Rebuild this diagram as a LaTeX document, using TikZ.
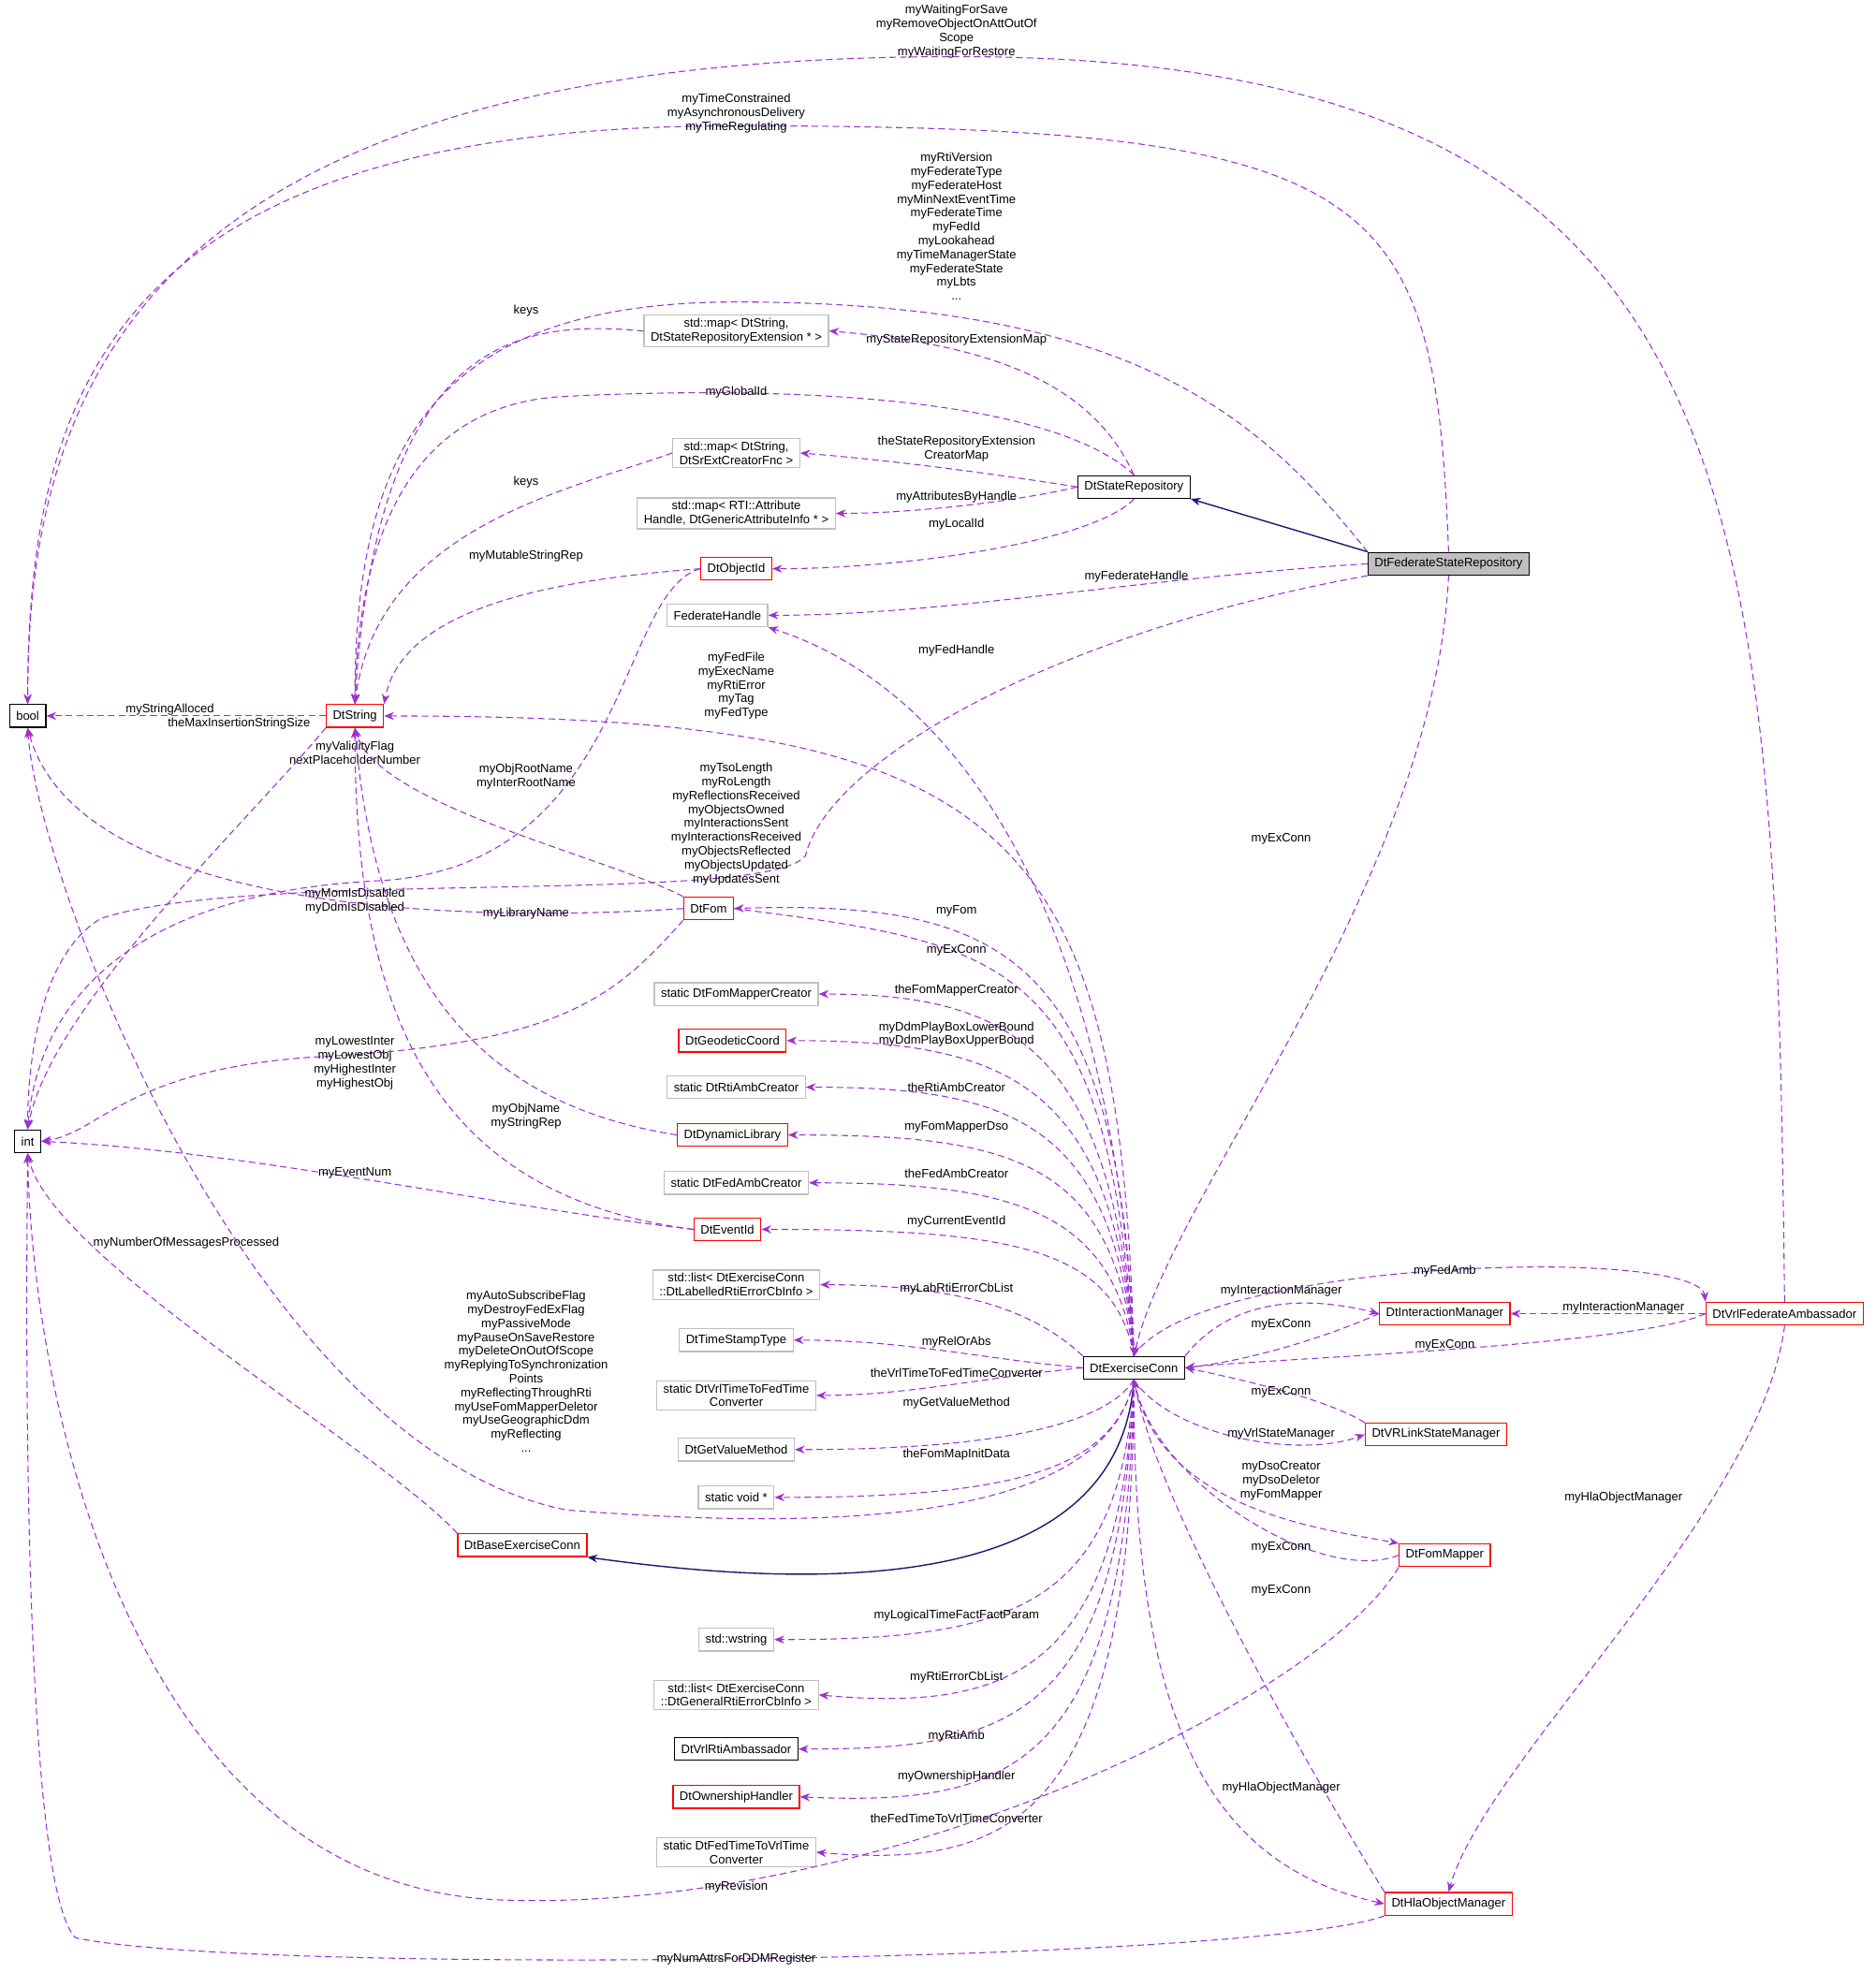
\documentclass[tikz,border=0pt]{standalone}
\usepackage{fontspec}
\setmainfont{Liberation Sans}
\usetikzlibrary{arrows.meta}
\definecolor{depcol}{RGB}{154,50,205}
\definecolor{inhcol}{RGB}{25,25,112}
\definecolor{grycol}{RGB}{191,191,191}
\tikzset{
  cls/.style={draw=black, line width=0.35pt, fill=white, inner xsep=2pt, inner ysep=1pt, minimum height=6.9pt, align=center, font=\fontsize{3.7}{4.2}\selectfont},
  redcls/.style={cls, draw=red},
  grycls/.style={cls, draw=grycol},
  dep/.style={draw=depcol, line width=0.3pt, dash pattern=on 2pt off 1.2pt, -{Stealth[length=3pt,width=2.4pt]}},
  inh/.style={draw=inhcol, line width=0.4pt, -{Stealth[length=3pt,width=2.4pt]}},
  lbl/.style={align=center, inner sep=0.3pt, font=\fontsize{3.7}{4.2}\selectfont},
}
\begin{document}
\begin{tikzpicture}[x=0.01342cm, y=-0.01342cm]
		\useasboundingbox (0,0) rectangle (1490,1568);

		% classes
		\node[cls] (bool) at (22,569) {bool};
		\node[redcls] (dtstr) at (282,569) {DtString};
		\node[cls] (int) at (22,907) {int};
		\node[grycls] (mapext) at (585,263) {std::map\textless{} DtString,\\ DtStateRepositoryExtension * \textgreater};
		\node[grycls] (mapcre) at (585,360) {std::map\textless{} DtString,\\ DtSrExtCreatorFnc \textgreater};
		\node[grycls] (mapatt) at (585,408) {std::map\textless{} RTI::Attribute\\Handle, DtGenericAttributeInfo * \textgreater};
		\node[redcls] (objid) at (585,452) {DtObjectId};
		\node[grycls] (fedh) at (570,489) {FederateHandle};
		\node[cls] (staterep) at (901,387) {DtStateRepository};
		\node[cls, fill=grycol] (fsr) at (1151,448) {DtFederateStateRepository};
		\node[redcls] (fom) at (563,722) {DtFom};
		\node[grycls] (fmc) at (585,790) {static DtFomMapperCreator};
		\node[redcls] (geo) at (582,827) {DtGeodeticCoord};
		\node[grycls] (rac) at (585,864) {static DtRtiAmbCreator};
		\node[redcls] (dynlib) at (582,902) {DtDynamicLibrary};
		\node[grycls] (fac) at (585,940) {static DtFedAmbCreator};
		\node[redcls] (evid) at (578,977) {DtEventId};
		\node[grycls] (lablist) at (585,1021) {std::list\textless{} DtExerciseConn\\::DtLabelledRtiErrorCbInfo \textgreater};
		\node[grycls] (tst) at (585,1065) {DtTimeStampType};
		\node[grycls] (v2f) at (585,1109) {static DtVrlTimeToFedTime\\Converter};
		\node[grycls] (gvm) at (585,1152) {DtGetValueMethod};
		\node[grycls] (svoid) at (585,1190) {static void *};
		\node[redcls] (bec) at (415,1228) {DtBaseExerciseConn};
		\node[grycls] (wstr) at (585,1303) {std::wstring};
		\node[grycls] (genlist) at (585,1347) {std::list\textless{} DtExerciseConn\\::DtGeneralRtiErrorCbInfo \textgreater};
		\node[cls] (vrlra) at (585,1390) {DtVrlRtiAmbassador};
		\node[redcls] (own) at (585,1428) {DtOwnershipHandler};
		\node[grycls] (f2v) at (585,1472) {static DtFedTimeToVrlTime\\Converter};
		\node[cls] (ec) at (901,1087) {DtExerciseConn};
		\node[redcls] (im) at (1148,1044) {DtInteractionManager};
		\node[redcls] (vfa) at (1418,1044) {DtVrlFederateAmbassador};
		\node[redcls] (vsm) at (1141,1140) {DtVRLinkStateManager};
		\node[redcls] (fmap) at (1148,1236) {DtFomMapper};
		\node[redcls] (hom) at (1151,1513) {DtHlaObjectManager};

		% top region
		\draw[dep] (vfa.north) .. controls (1410,400) and (1400,45) .. (760,45) .. controls (120,45) and (22,300) .. (bool.north)
			node[lbl, at={(760,25)}] {myWaitingForSave\\myRemoveObjectOnAttOutOf\\Scope\\myWaitingForRestore};
		\draw[dep] (fsr.north) .. controls (1140,150) and (1100,100) .. (585,100) .. controls (100,100) and (22,300) .. (bool.north)
			node[lbl, at={(585,90)}] {myTimeConstrained\\myAsynchronousDelivery\\myTimeRegulating};
		\draw[dep] (fsr.north west) .. controls (1000,330) and (900,240) .. (585,240) .. controls (350,240) and (282,350) .. (dtstr.north)
			node[lbl, at={(760,180)}] {myRtiVersion\\myFederateType\\myFederateHost\\myMinNextEventTime\\myFederateTime\\myFedId\\myLookahead\\myTimeManagerState\\myFederateState\\myLbts\\...};
		\draw[dep] (staterep.north) .. controls (870,310) and (800,275) .. (mapext.east)
			node[lbl, at={(760,270)}] {myStateRepositoryExtensionMap};
		\draw[dep] (mapext.west) .. controls (420,255) and (300,260) .. (dtstr.north)
			node[lbl, at={(418,247)}] {keys};
		\draw[dep] (staterep.north) .. controls (840,320) and (650,305) .. (450,315) .. controls (330,320) and (285,420) .. (dtstr.north)
			node[lbl, at={(585,312)}] {myGlobalId};
		\draw[dep] (staterep.west) .. controls (780,375) and (700,365) .. (mapcre.east)
			node[lbl, at={(760,357)}] {theStateRepositoryExtension\\CreatorMap};
		\draw[dep] (mapcre.west) .. controls (450,390) and (300,420) .. (dtstr.north)
			node[lbl, at={(418,383)}] {keys};
		\draw[dep] (staterep.west) .. controls (800,400) and (720,408) .. (mapatt.east)
			node[lbl, at={(760,395)}] {myAttributesByHandle};
		\draw[dep] (staterep.south) .. controls (870,430) and (720,452) .. (objid.east)
			node[lbl, at={(760,417)}] {myLocalId};
		\draw[dep] (objid.west) .. controls (450,460) and (320,480) .. (dtstr.north east)
			node[lbl, at={(418,442)}] {myMutableStringRep};
		\draw[dep] (objid.west) .. controls (490,470) and (500,690) .. (300,700) .. controls (100,710) and (30,800) .. (int.north)
			node[lbl, at={(282,598)}] {myValidityFlag\\nextPlaceholderNumber};
		\draw[inh] (fsr.north west) -- (staterep.south east);
		\draw[dep] (fsr.west) .. controls (900,460) and (750,489) .. (fedh.east)
			node[lbl, at={(903,458)}] {myFederateHandle};
		\draw[dep] (fsr.south west) .. controls (850,500) and (660,600) .. (640,680) .. controls (610,720) and (200,690) .. (80,730) .. controls (30,760) and (22,850) .. (int.north)
			node[lbl, at={(585,655)}] {myTsoLength\\myRoLength\\myReflectionsReceived\\myObjectsOwned\\myInteractionsSent\\myInteractionsReceived\\myObjectsReflected\\myObjectsUpdated\\myUpdatesSent};
		\draw[dep] (fsr.south) .. controls (1140,700) and (930,950) .. (ec.north)
			node[lbl, at={(1018,667)}] {myExConn};
		\draw[dep] (dtstr.west) -- (bool.east)
			node[lbl, at={(135,564)}] {myStringAlloced};
		\draw[dep] (dtstr.south west) .. controls (200,650) and (40,800) .. (int.north)
			node[lbl, at={(190,575)}] {theMaxInsertionStringSize};

		% exercise connection, left side
		\draw[dep] (ec.north) .. controls (890,800) and (800,560) .. (fedh.south east)
			node[lbl, at={(760,517)}] {myFedHandle};
		\draw[dep] (ec.north) .. controls (890,650) and (800,569) .. (dtstr.east)
			node[lbl, at={(585,545)}] {myFedFile\\myExecName\\myRtiError\\myTag\\myFedType};
		\draw[dep] (fom.north west) .. controls (480,680) and (300,640) .. (dtstr.south)
			node[lbl, at={(418,617)}] {myObjRootName\\myInterRootName};
		\draw[dep] (fom.west) .. controls (350,735) and (60,720) .. (bool.south)
			node[lbl, at={(282,716)}] {myMomIsDisabled\\myDdmIsDisabled};
		\draw[dep] (fom.south west) .. controls (490,790) and (450,830) .. (250,840) .. controls (100,850) and (80,900) .. (int.east)
			node[lbl, at={(282,845)}] {myLowestInter\\myLowestObj\\myHighestInter\\myHighestObj};
		\draw[dep] (ec.north) .. controls (890,760) and (800,715) .. (fom.east)
			node[lbl, at={(760,724)}] {myFom};
		\draw[dep] (fom.east) .. controls (800,750) and (880,760) .. (ec.north)
			node[lbl, at={(760,755)}] {myExConn};
		\draw[dep] (ec.north) .. controls (885,830) and (800,790) .. (fmc.east)
			node[lbl, at={(760,787)}] {theFomMapperCreator};
		\draw[dep] (ec.north) .. controls (885,860) and (800,827) .. (geo.east)
			node[lbl, at={(760,822)}] {myDdmPlayBoxLowerBound\\myDdmPlayBoxUpperBound};
		\draw[dep] (ec.north) .. controls (885,890) and (800,864) .. (rac.east)
			node[lbl, at={(760,864)}] {theRtiAmbCreator};
		\draw[dep] (ec.north) .. controls (885,920) and (800,902) .. (dynlib.east)
			node[lbl, at={(760,896)}] {myFomMapperDso};
		\draw[dep] (dynlib.west) .. controls (400,880) and (300,800) .. (dtstr.south)
			node[lbl, at={(418,726)}] {myLibraryName};
		\draw[dep] (ec.north) .. controls (885,960) and (800,940) .. (fac.east)
			node[lbl, at={(760,933)}] {theFedAmbCreator};
		\draw[dep] (ec.north) .. controls (885,990) and (800,977) .. (evid.east)
			node[lbl, at={(760,971)}] {myCurrentEventId};
		\draw[dep] (evid.west) .. controls (340,950) and (282,800) .. (dtstr.south)
			node[lbl, at={(418,887)}] {myObjName\\myStringRep};
		\draw[dep] (evid.west) .. controls (400,960) and (200,915) .. (int.east)
			node[lbl, at={(282,932)}] {myEventNum};
		\draw[dep] (ec.north west) .. controls (820,1040) and (760,1021) .. (lablist.east)
			node[lbl, at={(760,1024)}] {myLabRtiErrorCbList};
		\draw[dep] (ec.west) .. controls (780,1080) and (720,1065) .. (tst.east)
			node[lbl, at={(760,1067)}] {myRelOrAbs};
		\draw[dep] (ec.west) .. controls (780,1095) and (720,1109) .. (v2f.east)
			node[lbl, at={(760,1091)}] {theVrlTimeToFedTimeConverter};
		\draw[dep] (ec.south) .. controls (880,1130) and (800,1152) .. (gvm.east)
			node[lbl, at={(760,1115)}] {myGetValueMethod};
		\draw[dep] (ec.south) .. controls (885,1170) and (800,1190) .. (svoid.east)
			node[lbl, at={(760,1156)}] {theFomMapInitData};
		\draw[dep] (bec.north west) .. controls (300,1150) and (40,1000) .. (int.south)
			node[lbl, at={(148,988)}] {myNumberOfMessagesProcessed};
		\draw[dep] (ec.south) .. controls (880,1200) and (700,1220) .. (450,1200) .. controls (200,1150) and (30,700) .. (bool.south)
			node[lbl, at={(418,1090)}] {myAutoSubscribeFlag\\myDestroyFedExFlag\\myPassiveMode\\myPauseOnSaveRestore\\myDeleteOnOutOfScope\\myReplyingToSynchronization\\Points\\myReflectingThroughRti\\myUseFomMapperDeletor\\myUseGeographicDdm\\myReflecting\\...};
		\draw[inh] (ec.south) .. controls (890,1250) and (700,1270) .. (bec.south east);
		\draw[dep] (ec.south) .. controls (890,1280) and (800,1303) .. (wstr.east)
			node[lbl, at={(760,1284)}] {myLogicalTimeFactFactParam};
		\draw[dep] (ec.south) .. controls (890,1330) and (800,1360) .. (genlist.east)
			node[lbl, at={(760,1333)}] {myRtiErrorCbList};
		\draw[dep] (ec.south) .. controls (890,1370) and (800,1390) .. (vrlra.east)
			node[lbl, at={(760,1380)}] {myRtiAmb};
		\draw[dep] (ec.south) .. controls (895,1410) and (800,1435) .. (own.east)
			node[lbl, at={(760,1412)}] {myOwnershipHandler};
		\draw[dep] (ec.south) .. controls (900,1450) and (800,1485) .. (f2v.east)
			node[lbl, at={(760,1445)}] {theFedTimeToVrlTimeConverter};

		% exercise connection, right side
		\draw[dep] (ec.north east) .. controls (980,1030) and (1040,1030) .. (im.west)
			node[lbl, at={(1018,1026)}] {myInteractionManager};
		\draw[dep] (im.west) .. controls (1060,1060) and (1000,1080) .. (ec.east)
			node[lbl, at={(1018,1053)}] {myExConn};
		\draw[dep] (ec.north) .. controls (950,1000) and (1350,990) .. (vfa.north west)
			node[lbl, at={(1148,1010)}] {myFedAmb};
		\draw[dep] (vfa.west) .. controls (1300,1070) and (1000,1080) .. (ec.east)
			node[lbl, at={(1148,1069)}] {myExConn};
		\draw[dep] (vfa.west) -- (im.east)
			node[lbl, at={(1290,1039)}] {myInteractionManager};
		\draw[dep] (vsm.north west) .. controls (1050,1110) and (980,1095) .. (ec.east)
			node[lbl, at={(1018,1106)}] {myExConn};
		\draw[dep] (ec.south) .. controls (930,1140) and (1030,1160) .. (vsm.west)
			node[lbl, at={(1018,1140)}] {myVrlStateManager};
		\draw[dep] (ec.south) .. controls (920,1200) and (1050,1215) .. (fmap.north west)
			node[lbl, at={(1018,1177)}] {myDsoCreator\\myDsoDeletor\\myFomMapper};
		\draw[dep] (fmap.west) .. controls (1050,1260) and (920,1180) .. (ec.south)
			node[lbl, at={(1018,1230)}] {myExConn};
		\draw[dep] (hom.north west) .. controls (1060,1440) and (920,1200) .. (ec.south)
			node[lbl, at={(1018,1264)}] {myExConn};
		\draw[dep] (ec.south) .. controls (900,1350) and (950,1480) .. (hom.west)
			node[lbl, at={(1018,1421)}] {myHlaObjectManager};
		\draw[dep] (vfa.south) .. controls (1400,1200) and (1180,1400) .. (hom.north)
			node[lbl, at={(1290,1190)}] {myHlaObjectManager};
		\draw[dep] (fmap.south west) .. controls (1050,1350) and (700,1520) .. (400,1510) .. controls (100,1500) and (25,1100) .. (int.south)
			node[lbl, at={(585,1500)}] {myRevision};
		\draw[dep] (hom.south west) .. controls (1000,1560) and (200,1570) .. (60,1540) .. controls (20,1500) and (20,1100) .. (int.south)
			node[lbl, at={(585,1557)}] {myNumAttrsForDDMRegister};
\end{tikzpicture}
\end{document}
